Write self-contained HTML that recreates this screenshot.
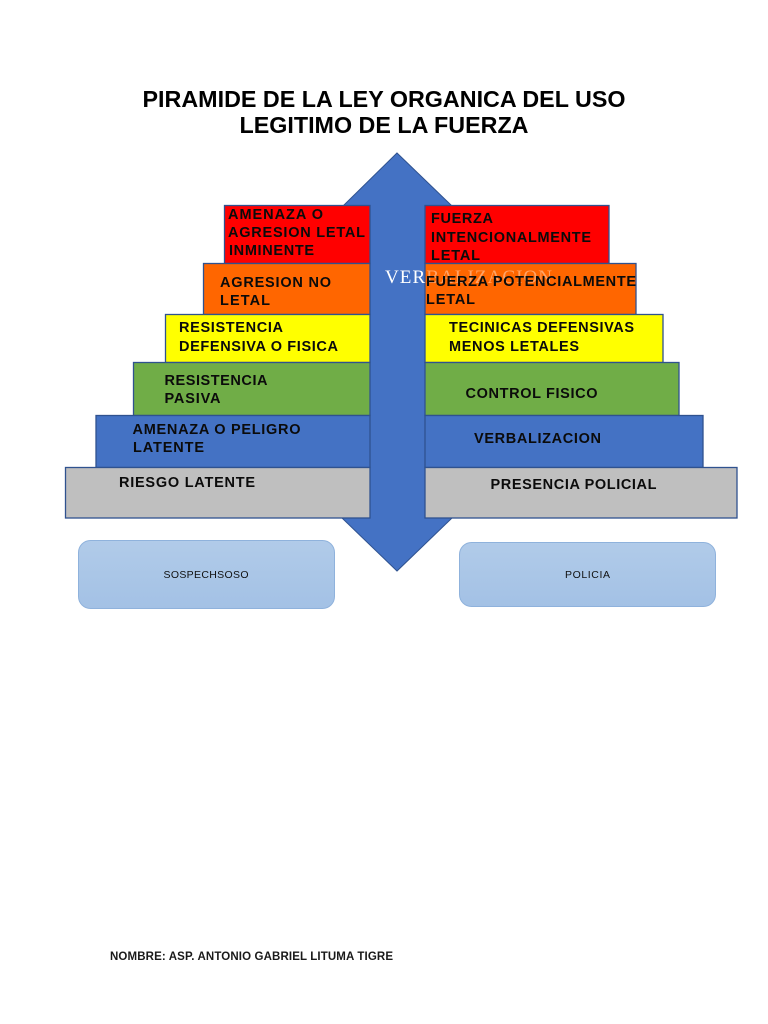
<!DOCTYPE html>
<html lang="es">
<head>
<meta charset="utf-8">
<title>Piramide de la Ley Organica del Uso Legitimo de la Fuerza</title>
<style>
html,body{margin:0;padding:0;background:#fff;}
svg{display:block;}
text{font-family:"Liberation Sans",sans-serif;}
.t{font-weight:bold;font-size:14.5px;fill:#0b0b0b;}
.b{stroke:#2f528f;stroke-width:1.3;}
.v{font-family:"Liberation Serif",serif;font-size:19px;}
</style>
</head>
<body>
<svg width="768" height="1024" viewBox="0 0 768 1024" xmlns="http://www.w3.org/2000/svg">
<defs>
<linearGradient id="g" x1="0" y1="0" x2="0" y2="1">
<stop offset="0" stop-color="#b1cbe9"/>
<stop offset="1" stop-color="#a3c1e5"/>
</linearGradient>
<clipPath id="cl"><rect x="370" y="260" width="56" height="40"/></clipPath>
<clipPath id="cr"><rect x="426" y="260" width="140" height="40"/></clipPath>
</defs>
<rect width="768" height="1024" fill="#fff"/>

<text x="384" y="107" text-anchor="middle" font-size="23" font-weight="bold" fill="#000" textLength="483" lengthAdjust="spacingAndGlyphs">PIRAMIDE DE LA LEY ORGANICA DEL USO</text>
<text x="384" y="133" text-anchor="middle" font-size="23" font-weight="bold" fill="#000" textLength="289" lengthAdjust="spacingAndGlyphs">LEGITIMO DE LA FUERZA</text>

<!-- double arrow -->
<polygon points="397,153 452,206 425,206 425,518 452,518 397,571 342,518 370,518 370,206 343,206" fill="#4472c4" stroke="#2f528f" stroke-width="1"/>

<!-- left steps -->
<rect class="b" x="224.500" y="205.500" width="145.500" height="58" fill="#ff0000"/>
<rect class="b" x="203.500" y="263.500" width="166.500" height="51" fill="#ff6600"/>
<rect class="b" x="165.500" y="314.500" width="204.500" height="48" fill="#ffff00"/>
<rect class="b" x="133.500" y="362.500" width="236.500" height="53" fill="#70ad47"/>
<rect class="b" x="96" y="415.500" width="274" height="52" fill="#4472c4"/>
<rect class="b" x="65.500" y="467.500" width="304.500" height="50.500" fill="#bfbfbf"/>

<!-- right steps -->
<rect class="b" x="425" y="205.500" width="184" height="58" fill="#ff0000"/>
<rect class="b" x="425" y="263.500" width="211" height="51" fill="#ff6600"/>
<rect class="b" x="425" y="314.500" width="238" height="48" fill="#ffff00"/>
<rect class="b" x="425" y="362.500" width="254" height="53" fill="#70ad47"/>
<rect class="b" x="425" y="415.500" width="278" height="52" fill="#4472c4"/>
<rect class="b" x="425" y="467.500" width="312" height="50.500" fill="#bfbfbf"/>

<!-- arrow label, bright on the shaft and faint over the orange box -->
<g clip-path="url(#cl)"><text class="v" x="385" y="283" fill="#fff" textLength="167" lengthAdjust="spacing">VERBALIZACION</text></g>
<g clip-path="url(#cr)"><text class="v" x="385" y="283" fill="#fff" fill-opacity="0.4" textLength="167" lengthAdjust="spacing">VERBALIZACION</text></g>

<!-- left labels -->
<text class="t" x="228" y="219" textLength="95" lengthAdjust="spacing">AMENAZA O</text>
<text class="t" x="228" y="237" textLength="137" lengthAdjust="spacing">AGRESION LETAL</text>
<text class="t" x="229" y="255" textLength="85" lengthAdjust="spacing">INMINENTE</text>
<text class="t" x="220" y="287" textLength="111" lengthAdjust="spacing">AGRESION NO</text>
<text class="t" x="220" y="305" textLength="50" lengthAdjust="spacing">LETAL</text>
<text class="t" x="179" y="332" textLength="104" lengthAdjust="spacing">RESISTENCIA</text>
<text class="t" x="179" y="351" textLength="159" lengthAdjust="spacing">DEFENSIVA O FISICA</text>
<text class="t" x="164.500" y="385" textLength="103" lengthAdjust="spacing">RESISTENCIA</text>
<text class="t" x="164.500" y="403" textLength="56" lengthAdjust="spacing">PASIVA</text>
<text class="t" x="132.500" y="434" textLength="168" lengthAdjust="spacing">AMENAZA O PELIGRO</text>
<text class="t" x="133" y="452" textLength="71" lengthAdjust="spacing">LATENTE</text>
<text class="t" x="119" y="487" textLength="136" lengthAdjust="spacing">RIESGO LATENTE</text>

<!-- right labels -->
<text class="t" x="431" y="223" textLength="62" lengthAdjust="spacing">FUERZA</text>
<text class="t" x="431" y="242" textLength="160" lengthAdjust="spacing">INTENCIONALMENTE</text>
<text class="t" x="431" y="260" textLength="49" lengthAdjust="spacing">LETAL</text>
<text class="t" x="426" y="286" textLength="210" lengthAdjust="spacing">FUERZA POTENCIALMENTE</text>
<text class="t" x="426" y="304" textLength="49" lengthAdjust="spacing">LETAL</text>
<text class="t" x="449" y="332" textLength="185" lengthAdjust="spacing">TECINICAS DEFENSIVAS</text>
<text class="t" x="449" y="351" textLength="130" lengthAdjust="spacing">MENOS LETALES</text>
<text class="t" x="465.500" y="398" textLength="132" lengthAdjust="spacing">CONTROL FISICO</text>
<text class="t" x="474" y="443" textLength="127" lengthAdjust="spacing">VERBALIZACION</text>
<text class="t" x="490.500" y="489" textLength="166" lengthAdjust="spacing">PRESENCIA POLICIAL</text>

<!-- role boxes -->
<rect x="78.500" y="540.500" width="256" height="68" rx="12" ry="12" fill="url(#g)" stroke="#8fb2dc" stroke-width="1"/>
<rect x="459.500" y="542.500" width="256" height="64" rx="12" ry="12" fill="url(#g)" stroke="#8fb2dc" stroke-width="1"/>
<text x="163.500" y="578" font-size="10.500" fill="#111" textLength="85" lengthAdjust="spacing">SOSPECHSOSO</text>
<text x="565" y="578" font-size="10.500" fill="#111" textLength="45" lengthAdjust="spacing">POLICIA</text>

<text x="110" y="960" font-size="11.500" font-weight="bold" fill="#1a1a1a" textLength="283" lengthAdjust="spacing">NOMBRE: ASP. ANTONIO GABRIEL LITUMA TIGRE</text>
</svg>
</body>
</html>
